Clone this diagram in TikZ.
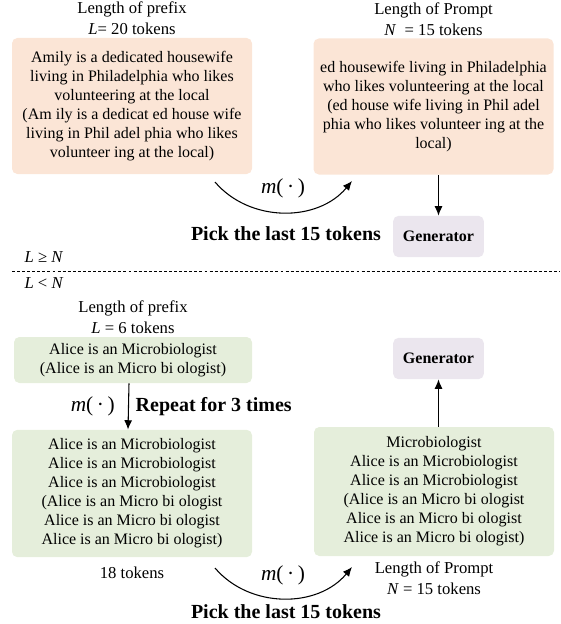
\documentclass[tikz,border=0pt]{standalone}
\usepackage{fontspec}
\setmainfont{Liberation Serif}
\usetikzlibrary{positioning,arrows.meta}
\definecolor{peach}{HTML}{FBE5D6}
\definecolor{sage}{HTML}{E5EEDB}
\definecolor{lilac}{HTML}{EBE6EE}

\begin{document}
\begin{tikzpicture}[x=0.75pt,y=-0.75pt,
textbox/.style={rectangle,rounded corners=4pt,minimum width=180pt,align=center,inner sep=0pt,
    font=\fontsize{12}{14.25}\selectfont},
prefixbox/.style={textbox,fill=peach,minimum height=102pt},
alicebox/.style={textbox,fill=sage},
genbox/.style={rectangle,rounded corners=4pt,fill=lilac,minimum width=68pt,minimum height=31pt,
    font=\fontsize{12}{14}\selectfont\bfseries},
title/.style={align=center,inner sep=0pt,font=\fontsize{12.5}{15.5}\selectfont},
note/.style={inner sep=0pt,font=\fontsize{15}{18}\selectfont\bfseries},
mapfn/.style={inner sep=0pt,font=\fontsize{16}{18}\selectfont},
arr/.style={-{Latex[length=7pt,width=6pt]},line width=0.8pt}]

\useasboundingbox (0,0) rectangle (560,624);

% case L >= N
\node (tl) [prefixbox] at (132,106) {Amily is a dedicated housewife\\living in Philadelphia who likes\\volunteering at the local\\(Am ily is a dedicat ed house wife\\living in Phil adel phia who likes\\volunteer ing at the local)};
\node (tr) [prefixbox] at (433.5,106.5) {ed housewife living in Philadelphia\\who likes volunteering at the local\\(ed house wife living in Phil adel\\phia who likes volunteer ing at the\\local)};
\node (tltitle) [title,above=2pt of tl] {Length of prefix\\\textit{L}= 20 tokens};
\node (trtitle) [title,above=2pt of tr] {Length of Prompt\\\textit{N}\ \ = 15 tokens};
\node (gen1) [genbox] at (438.5,236.5) {Generator};
\node (pick1) [note] at (286,234) {Pick the last 15 tokens};
\coordinate (cs1) at (215,182);
\coordinate (ce1) at (352,181);
\draw[arr] (cs1) to[bend right=50] (ce1);
\node (m1) [mapfn] at (283,188) {\textit{m}(\,·\,)};
\draw[arr] (tr.south -| gen1.north) -- (gen1.north);

% split
\node (geq) [title] at (44,257) {\textit{L} ≥ \textit{N}};
\node (less) [title] at (44,283) {\textit{L} < \textit{N}};
\coordinate (cutl) at (12,271);
\coordinate (cutr) at (560,271);
\draw[dash pattern=on 2.2pt off 1.6pt,line width=0.6pt] (cutl) -- (cutr);

% case L < N
\node (bl1) [alicebox,minimum width=178.5pt,minimum height=34.5pt] at (133,360) {Alice is an Microbiologist\\(Alice is an Micro bi ologist)};
\node (bltitle) [title,above=2pt of bl1] {Length of prefix\\\textit{L} = 6 tokens};
\node (bl2) [alicebox,minimum height=95.5pt] at (132,493.5) {Alice is an Microbiologist\\Alice is an Microbiologist\\Alice is an Microbiologist\\(Alice is an Micro bi ologist\\Alice is an Micro bi ologist\\Alice is an Micro bi ologist)};
\node (br) [alicebox,minimum height=96.75pt] at (434,491.5) {Microbiologist\\Alice is an Microbiologist\\Alice is an Microbiologist\\(Alice is an Micro bi ologist\\Alice is an Micro bi ologist\\Alice is an Micro bi ologist)};
\node (gen2) [genbox] at (438.5,358.5) {Generator};
\draw[arr] ([xshift=-3pt]bl1.south) -- ([xshift=-3pt]bl2.north)
    node (m2) [mapfn,midway,left=10pt] {\textit{m}(\,·\,)}
    node (rep) [note,midway,right=5pt] {Repeat for 3 times};
\draw[arr] (gen2.south |- br.north) -- (gen2.south);
\node (count) [title,below=7pt of bl2] {18 tokens};
\node (brtitle) [title,below=4pt of br] {Length of Prompt\\\textit{N} = 15 tokens};
\coordinate (cs2) at (215,568);
\coordinate (ce2) at (352,567);
\draw[arr] (cs2) to[bend right=50] (ce2);
\node (m3) [mapfn] at (283,575) {\textit{m}(\,·\,)};
\node (pick2) [note] at (286,612) {Pick the last 15 tokens};
\end{tikzpicture}
\end{document}
